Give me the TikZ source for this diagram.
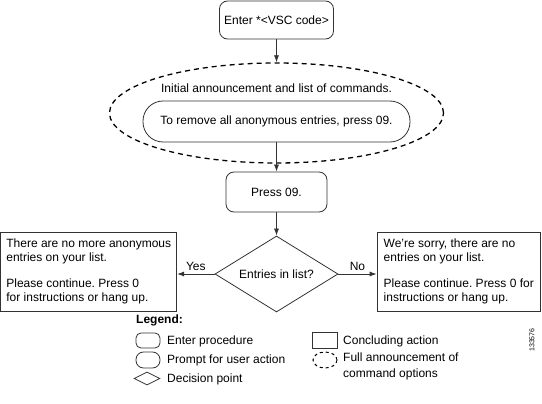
\documentclass[tikz,border=0pt]{standalone}
\usepackage{fontspec}
\setmainfont{Liberation Sans}
\usetikzlibrary{shapes.geometric,arrows.meta}
\frenchspacing

\begin{document}
\begin{tikzpicture}[x=1pt, y=-1pt,
    txt/.style={font=\fontsize{12}{14}\selectfont, inner sep=0pt},
    enterbox/.style={txt, draw=black!80, line width=0.8pt, rounded corners=8pt},
    promptbox/.style={txt, draw=black!80, line width=0.8pt, rounded corners=20pt},
    endbox/.style={txt, draw=black!80, line width=0.8pt, align=left},
    choice/.style={txt, draw=black!80, line width=0.8pt, diamond, aspect=1.6},
    fullann/.style={draw=black, ellipse, dash pattern=on 5pt off 4pt, line width=1.3pt, inner sep=0pt},
    flow/.style={draw=black!80, line width=0.8pt, -{Latex[length=7pt,width=5pt]}}]
    \useasboundingbox (0,0) rectangle (542,404);

    % Flow
    \node[enterbox, minimum width=114pt, minimum height=38pt] (enter) at (276.5,20) {Enter *<VSC code>};
    \node[fullann, minimum width=334pt, minimum height=100pt] (announce) at (276.5,113) {};
    \node[txt] (announcetext) at (276.5,88) {Initial announcement and list of commands.};
    \node[promptbox, minimum width=267pt, minimum height=41pt] (remove) at (276.5,121.5) {To remove all anonymous entries, press 09.};
    \node[enterbox, minimum width=101pt, minimum height=40pt] (press) at (276.5,192) {Press 09.};
    \node[choice, minimum width=123pt, minimum height=76pt] (decide) at (276.5,274) {Entries in list?};
    \node[endbox, minimum width=176pt, minimum height=79pt] (nomore) at (88.75,271.5)
        {There are no more anonymous\\entries on your list.\\[12pt]Please continue. Press 0\\for instructions or hang up.};
    \node[endbox, minimum width=163.5pt, minimum height=79pt] (sorry) at (458.75,271.5)
        {We're sorry, there are no\\entries on your list.\\[12pt]Please continue. Press 0 for\\instructions or hang up.};

    \draw[flow] (enter) -- (announce.north);
    \draw[flow] (remove) -- (press);
    \draw[flow] (press) -- (decide);
    \draw[flow] (decide.west) -- (decide.west -| nomore.east) node[txt, midway, above=3pt] (yes) {Yes};
    \draw[flow] (decide.east) -- (decide.east -| sorry.west) node[txt, midway, above=3pt] (no) {No};

    %Legend
    \node[txt, font=\fontsize{12}{14}\selectfont\bfseries, anchor=west] (legend) at (136,320) {Legend:};
    \node[enterbox, rounded corners=5pt, minimum width=24pt, minimum height=15pt] (enterkey) at (148,340.5) {};
    \node[promptbox, rounded corners=7.5pt, minimum width=24pt, minimum height=16pt] (promptkey) at (148,360) {};
    \node[choice, minimum width=26pt, minimum height=13pt] (choicekey) at (147,378.5) {};
    \node[endbox, minimum width=25pt, minimum height=16pt] (endkey) at (324.5,340) {};
    \node[fullann, line width=1pt, dash pattern=on 3pt off 3pt, minimum width=24pt, minimum height=16pt] (annkey) at (325,360) {};
    \node[txt, anchor=west] (enterlbl) at (167,341) {Enter procedure};
    \node[txt, anchor=west] (promptlbl) at (167,360) {Prompt for user action};
    \node[txt, anchor=west] (choicelbl) at (167,379) {Decision point};
    \node[txt, anchor=west] (endlbl) at (343,341) {Concluding action};
    \node[txt, anchor=north west, align=left, font=\fontsize{12}{16}\selectfont] (annlbl) at (343,353) {Full announcement of\\command options};
    \node[inner sep=0pt, font=\fontsize{7}{8}\selectfont, rotate=90] (figno) at (532,340) {133576};
\end{tikzpicture}
\end{document}
